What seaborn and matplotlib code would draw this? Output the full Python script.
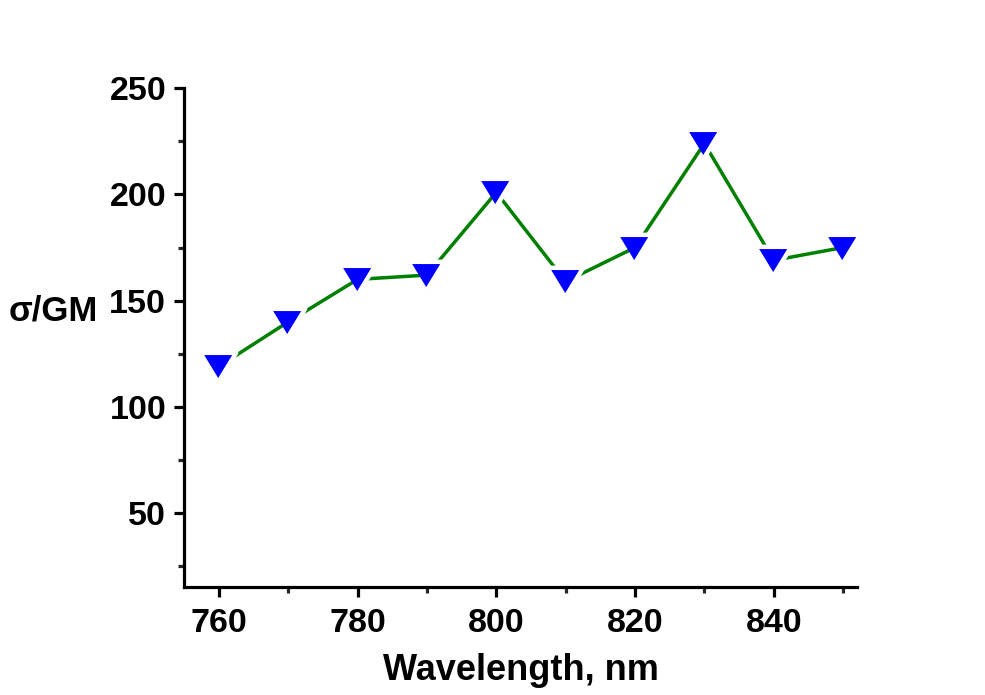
import matplotlib
matplotlib.use("Agg")
import matplotlib.pyplot as plt
import seaborn as sns
import pandas as pd
from matplotlib.ticker import MultipleLocator

wavelength = [760, 770, 780, 790, 800, 810, 820, 830, 840, 850]
sigma = [119, 140, 160, 162, 201, 159, 175, 224, 169, 175]

sns.set_theme(style="ticks")
plt.rcParams['font.family'] = ['Liberation Sans', 'DejaVu Sans']
plt.rcParams['font.weight'] = 'bold'
plt.rcParams['text.color'] = 'black'
plt.rcParams['axes.labelcolor'] = 'black'

df = pd.DataFrame({"Wavelength": wavelength, "sigma": sigma})

fig = plt.figure(figsize=(9.85, 6.95), dpi=100)
ax = fig.add_axes([0.187, 0.155, 0.683, 0.718])

tri_down = [(-1.0, 0.82), (1.0, 0.82), (0.0, -0.82)]
sns.lineplot(data=df, x="Wavelength", y="sigma", ax=ax, color="#008000",
             linewidth=2.5, marker=tri_down, markersize=24,
             markerfacecolor="#0000ff", markeredgecolor="white",
             markeredgewidth=3.2)

ax.set_xlim(755, 852)
ax.set_ylim(15, 250)
ax.xaxis.set_major_locator(MultipleLocator(20))
ax.xaxis.set_minor_locator(MultipleLocator(10))
ax.yaxis.set_major_locator(MultipleLocator(50))
ax.yaxis.set_minor_locator(MultipleLocator(25))
ax.set_yticks([50, 100, 150, 200, 250])

for s in ["top", "right"]:
    ax.spines[s].set_visible(False)
for s in ["left", "bottom"]:
    ax.spines[s].set_linewidth(2.3)
    ax.spines[s].set_color("black")

ax.tick_params(axis="both", which="major", length=7, width=2.3, labelsize=24.5,
               pad=6, direction="out", colors="black")
ax.tick_params(axis="x", which="major", pad=8)
ax.tick_params(axis="both", which="minor", length=4.5, width=2.3, direction="out")
for lab in ax.get_xticklabels() + ax.get_yticklabels():
    lab.set_fontweight("bold")

ax.set_xlabel("Wavelength, nm", fontsize=26, fontweight="bold", labelpad=10,
              color="black")
ax.set_ylabel("")
fig.text(0.009, 0.552, "σ/GM", fontsize=25, fontweight="bold", ha="left",
         va="center", color="black")

fig.savefig("out.png", dpi=100, facecolor="white")
